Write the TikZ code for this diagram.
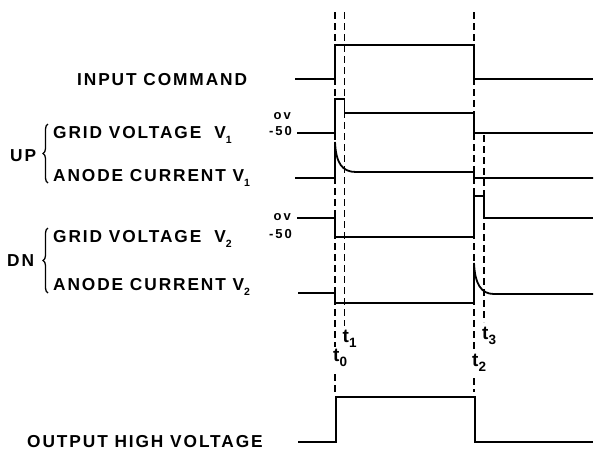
\documentclass[tikz,border=0pt]{standalone}
\usepackage{fontspec}
\setmainfont{Liberation Sans}
\newfontfamily\lblfont{Liberation Sans}[LetterSpace=11]
\newfontfamily\smlfont{Liberation Sans}[LetterSpace=15]
\newfontfamily\tfont{Liberation Sans}
\usetikzlibrary{decorations.pathreplacing}
\newcommand\mysub[2][-5pt]{\raisebox{#1}{\fontsize{10.5}{10.5}\selectfont #2}}
\newcommand\tsub[1]{\raisebox{-5pt}{\fontsize{13.5}{13.5}\selectfont #1}}
\begin{document}
\begin{tikzpicture}[x=1pt,y=-1pt,
  sig/.style={line width=1.8pt},
  tline/.style={dash pattern=on 7pt off 4pt, line width=1.1pt},
  lbl/.style={anchor=base west, inner sep=0pt, font={\lblfont\bfseries\fontsize{17.3}{19}\selectfont}},
  sml/.style={anchor=east, inner sep=0pt, font={\smlfont\bfseries\fontsize{13}{14}\selectfont}},
  tl/.style={anchor=base west, inner sep=0pt, font={\tfont\bfseries\fontsize{19}{20}\selectfont}},
  bracestyle/.style={decorate, decoration={brace, amplitude=5pt}, line width=1.3pt}]
\useasboundingbox (0,0) rectangle (594,451);
\fill[white] (0,0) rectangle (594,451);
% labels
\node[lbl] (inp) at (77,85) {INPUT COMMAND};
\node[lbl] (g1) at (53,138) {GRID VOLTAGE\hspace{13pt}V\mysub{1}};
\node[lbl] (a1) at (53,181) {ANODE CURRENT V\mysub{1}};
\node[lbl] (up) at (10,161) {UP};
\node[lbl] (g2) at (53,242) {GRID VOLTAGE\hspace{13pt}V\mysub{2}};
\node[lbl] (a2) at (53,290) {ANODE CURRENT V\mysub{2}};
\node[lbl] (dn) at (7,266) {DN};
\node[lbl] (out) at (27,447) {OUTPUT HIGH VOLTAGE};
% small level labels
\node[sml] (ov1) at (291,116) {ov};
\node[sml] (m1) at (292,131) {-50};
\node[sml] (ov2) at (291,217) {ov};
\node[sml] (m2) at (292,234) {-50};
% braces
\draw[bracestyle] (48,183) -- (48,124);
\draw[bracestyle] (48,293) -- (48,228);
% dashed time lines
\draw[tline] (335,12) -- (335,347);
\draw[tline] (335,374) -- (335,392);
\draw[tline] (344.5,12) -- (344.5,326);
\draw[tline] (474,12) -- (474,350);
\draw[tline] (474,378) -- (474,392);
\draw[tline] (484,135) -- (484,322);
% time labels
\node[tl] (t0) at (333,361) {t\tsub{0}};
\node[tl] (t1) at (342.5,342) {t\tsub{1}};
\node[tl] (t2) at (472,366) {t\tsub{2}};
\node[tl] (t3) at (482,339) {t\tsub{3}};
% waveforms
\draw[sig] (295,79) -| (335,45) -| (474,79) -- (593,79);
\draw[sig] (297,133) -| (335,99) -| (344.5,113) -| (474,133) -- (593,133);
\draw[sig] (295,178) -| (335,142) .. controls (336,163) and (342,172) .. (356,172) -| (474,178) -- (593,178);
\draw[sig] (297,218) -| (335,237) -| (474,196) -| (484,218) -- (593,218);
\draw[sig] (298,293) -| (335,303) -| (474,263) .. controls (475,284) and (481,294) .. (494,294) -- (593,294);
\draw[sig] (298,442) -| (336,397) -| (475,442) -- (593,442);
\end{tikzpicture}
\end{document}
